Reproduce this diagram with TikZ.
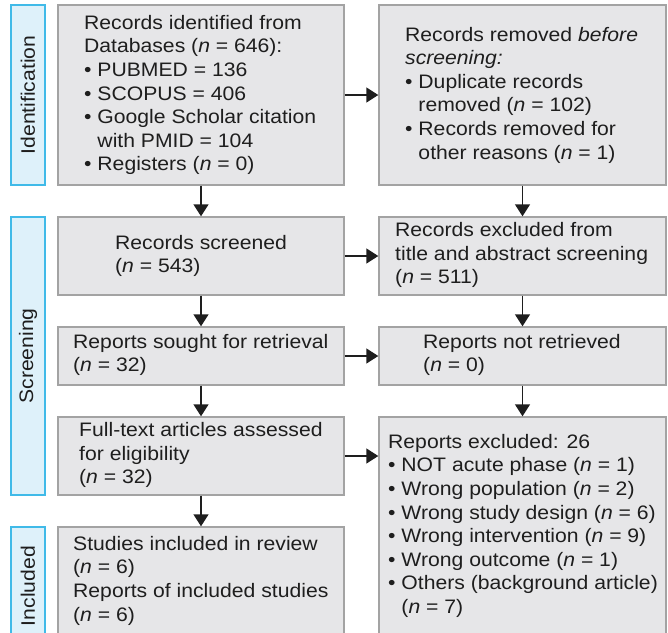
\documentclass[tikz,border=0pt]{standalone}
\usepackage{fontspec}
\setmainfont{Liberation Sans}[FakeStretch=1.085]
\usetikzlibrary{arrows.meta}
\definecolor{boxfill}{HTML}{E6E6E8}
\definecolor{boxline}{HTML}{A3A3A3}
\definecolor{phasefill}{HTML}{DEF1FA}
\definecolor{phaseline}{HTML}{40BAE8}
\definecolor{ink}{HTML}{1E1E1E}
\tikzset{
  mainbox/.style={draw=boxline, fill=boxfill, line width=1.4pt, inner sep=0pt},
  phasebox/.style={draw=phaseline, fill=phasefill, line width=1.5pt, inner sep=0pt, minimum width=34pt},
  txt/.style={inner sep=0pt, align=left, text=ink, font=\fontsize{19.5}{23.6}\selectfont},
  phasetxt/.style={inner sep=0pt, text=ink, rotate=90, font=\fontsize{19.5}{23.6}\selectfont},
  arr/.style={draw=ink, line width=1.4pt, -{Triangle[length=12pt,width=15pt]}}
}
\newcommand{\nn}{\textit{n}}
\newcommand{\bul}{\textbullet\ }
\newcommand{\ind}{\phantom{\textbullet\ }}
\begin{document}
\begin{tikzpicture}[x=1pt,y=-1pt]
\useasboundingbox (0,0) rectangle (668,632);
% phase boxes
\node[phasebox, minimum height=180pt] (ph1) at (28,95) {};
\node[phasebox, minimum height=278pt] (ph2) at (28,356) {};
\node[phasebox, minimum height=118pt] (ph3) at (28,586) {};
\node[phasetxt] (ph1t) at (ph1.center) {Identification};
\node[phasetxt] (ph2t) at (ph2.center) {Screening};
\node[phasetxt] (ph3t) at (ph3.center) {Included};
% main boxes
\node[mainbox, minimum width=286pt, minimum height=180pt] (b1) at (201,95) {};
\node[mainbox, minimum width=287pt, minimum height=180pt] (b2) at (522.5,95) {};
\node[mainbox, minimum width=286pt, minimum height=78pt] (b3) at (201,256) {};
\node[mainbox, minimum width=287pt, minimum height=78pt] (b4) at (522.5,256) {};
\node[mainbox, minimum width=286pt, minimum height=58pt] (b5) at (201,356) {};
\node[mainbox, minimum width=287pt, minimum height=58pt] (b6) at (522.5,356) {};
\node[mainbox, minimum width=286pt, minimum height=78pt] (b7) at (201,456) {};
\node[mainbox, minimum width=287pt, minimum height=228pt] (b8) at (522.5,531) {};
\node[mainbox, minimum width=286pt, minimum height=118pt] (b9) at (201,586) {};
% texts
\node[txt, anchor=west] (t1) at (84,95) {Records identified from\\Databases (\nn{} = 646):\\\bul PUBMED = 136\\\bul SCOPUS = 406\\\bul Google Scholar citation\\\ind with PMID = 104\\\bul Registers (\nn{} = 0)};
\node[txt, anchor=west] (t2) at (405,95) {Records removed \textit{before}\\\textit{screening:}\\\bul Duplicate records\\\ind removed (\nn{} = 102)\\\bul Records removed for\\\ind other reasons (\nn{} = 1)};
\node[txt, anchor=west] (t3) at (115,256) {Records screened\\(\nn{} = 543)};
\node[txt, anchor=west] (t4) at (395,255) {Records excluded from\\title and abstract screening\\(\nn{} = 511)};
\node[txt, anchor=west] (t5) at (73,355) {Reports sought for retrieval\\(\nn{} = 32)};
\node[txt, anchor=west] (t6) at (423,355) {Reports not retrieved\\(\nn{} = 0)};
\node[txt, anchor=west] (t7) at (79,455) {Full-text articles assessed\\for eligibility\\(\nn{} = 32)};
\node[txt, anchor=north west] (t8) at (388,434) {Reports excluded: 26\\\bul NOT acute phase (\nn{} = 1)\\\bul Wrong population (\nn{} = 2)\\\bul Wrong study design (\nn{} = 6)\\\bul Wrong intervention (\nn{} = 9)\\\bul Wrong outcome (\nn{} = 1)\\\bul Others (background article)\\\ind (\nn{} = 7)};
\node[txt, anchor=north west] (t9) at (73,536) {Studies included in review\\(\nn{} = 6)\\Reports of included studies\\(\nn{} = 6)};
% connectors
\draw[arr] (b1.east) -- (b1.east -| b2.west);
\draw[arr] (b3.east) -- (b3.east -| b4.west);
\draw[arr] (b5.east) -- (b5.east -| b6.west);
\draw[arr] (b7.east) -- (b7.east -| b8.west);
\draw[arr] (b1.south) -- (b3.north);
\draw[arr] (b3.south) -- (b5.north);
\draw[arr] (b5.south) -- (b7.north);
\draw[arr] (b7.south) -- (b9.north);
\draw[arr] (b2.south) -- (b4.north);
\draw[arr] (b4.south) -- (b6.north);
\draw[arr] (b6.south) -- (b6.south |- b8.north);
\end{tikzpicture}
\end{document}
